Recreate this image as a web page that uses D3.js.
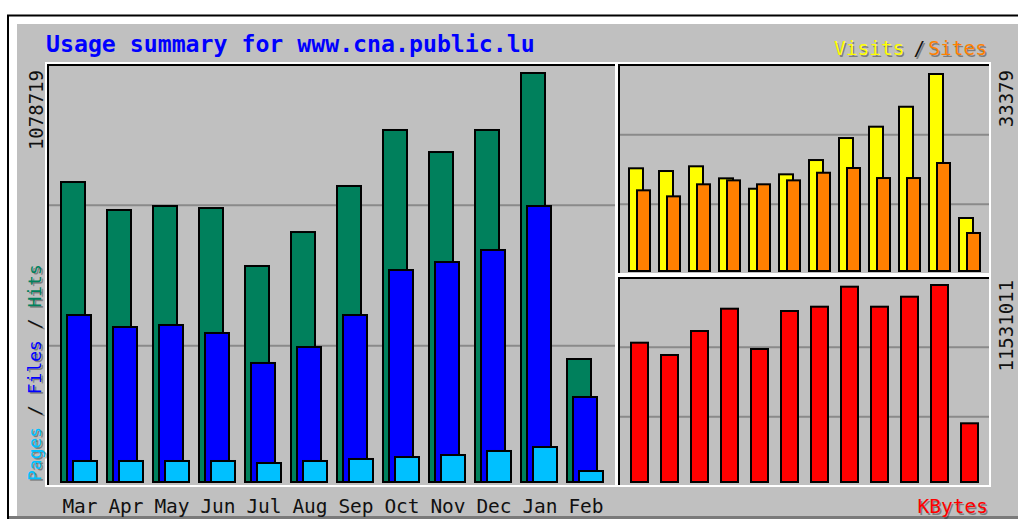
<!DOCTYPE html>
<html>
<head>
<meta charset="utf-8">
<script src="https://cdn.jsdelivr.net/npm/d3@7"></script>
<style>
  body { margin: 0; background: #fff; }
  text { font-family: "DejaVu Sans Mono", monospace; }
</style>
</head>
<body>
<div id="chart"></div>
<script>
// monthly usage data
var months = ["Mar", "Apr", "May", "Jun", "Jul", "Aug", "Sep", "Oct", "Nov", "Dec", "Jan", "Feb"];
var hits   = [791200, 717400, 727900, 722600, 569700, 659300, 780700, 928400, 870300, 928400, 1078719, 324400];
var files  = [440400, 408800, 414100, 393000, 313900, 356000, 440400, 559100, 580200, 611900, 727900, 224200];
var pages  = [55400, 55400, 55400, 55400, 50100, 55400, 60700, 65900, 71200, 81800, 92300, 29000];
var visits = [17400, 16940, 17740, 15700, 13940, 16380, 18800, 22530, 24450, 27830, 33379, 8980];
var sites  = [13670, 12650, 14690, 15360, 14690, 15360, 16650, 17450, 15750, 15750, 18300, 6440];
var kbytes = [8154000, 7434000, 8838000, 10144000, 7785000, 10009000, 10261000, 11432000, 10261000, 10846000, 11531011, 3436000];

var title = "Usage summary for www.cna.public.lu";

var width = 1018, height = 520;
var grey = "#c0c0c0", grid = "#8a8a8a";

var svg = d3.select("#chart")
  .append("svg")
    .attr("width", width)
    .attr("height", height);

// outer frame
svg.append("rect").attr("width", width).attr("height", height).attr("fill", "#fff");
svg.append("rect")
  .attr("x", 17).attr("y", 24)
  .attr("width", width - 17).attr("height", 492)
  .attr("fill", grey);
svg.append("line").attr("x1", 7).attr("x2", width).attr("y1", 15.5).attr("y2", 15.5)
  .attr("stroke", "#000").attr("stroke-width", 2);
svg.append("line").attr("x1", 8).attr("x2", 8).attr("y1", 15).attr("y2", 519)
  .attr("stroke", "#000").attr("stroke-width", 2);
svg.append("line").attr("x1", 9).attr("x2", width).attr("y1", 517.5).attr("y2", 517.5)
  .attr("stroke", "#7a7a7a").attr("stroke-width", 3);

// sunken plot boxes
function box(x0, y0, x1, y1) {
  svg.append("rect")
    .attr("x", x0).attr("y", y0)
    .attr("width", x1 - x0).attr("height", y1 - y0)
    .attr("fill", grey)
    .attr("stroke", "#fff").attr("stroke-width", 2);
  svg.append("path")
    .attr("d", "M" + (x0 + 2) + "," + (y1 - 1) + "V" + (y0 + 2) + "H" + (x1 - 1))
    .attr("fill", "none").attr("stroke", "#000").attr("stroke-width", 2);
}
box(46, 63, 616, 486);
box(617, 63, 990, 274);
box(617, 276, 990, 486);

// grid lines, thirds of each box
function gridLines(x0, x1, y0, y1) {
  svg.append("g").selectAll("line")
    .data([1, 2])
    .enter().append("line")
      .attr("x1", x0).attr("x2", x1)
      .attr("y1", function(d) { return y0 + d * (y1 - y0) / 3; })
      .attr("y2", function(d) { return y0 + d * (y1 - y0) / 3; })
      .attr("stroke", grid).attr("stroke-width", 2);
}
gridLines(49, 615, 65, 486);
gridLines(620, 989, 65, 274);
gridLines(620, 989, 278, 486);

// scales
var x = d3.scaleBand().domain(months).range([57, 609]);
var xr = d3.scaleBand().domain(months).range([621, 981]);
var yL = d3.scaleLinear().domain([0, d3.max(hits)]).range([481, 72]);
var yV = d3.scaleLinear().domain([0, d3.max(visits)]).range([270, 73]);
var yK = d3.scaleLinear().domain([0, d3.max(kbytes)]).range([481, 284]);

// bars with a black outline
function bars(values, xs, ys, off, w, color) {
  svg.append("g").selectAll("rect")
    .data(values)
    .enter().append("rect")
      .attr("x", function(d, i) { return xs(months[i]) + off + 1; })
      .attr("y", function(d) { return ys(d) + 1; })
      .attr("width", w - 2)
      .attr("height", function(d) { return ys(0) - ys(d); })
      .attr("fill", color)
      .attr("stroke", "#000").attr("stroke-width", 2);
}
bars(hits, x, yL, 3, 26, "#00805c");
bars(files, x, yL, 9, 26, "#0000ff");
bars(pages, x, yL, 15, 26, "#00c0ff");
bars(visits, xr, yV, 7, 16, "#ffff00");
bars(sites, xr, yV, 15, 15, "#ff8000");
bars(kbytes, xr, yK, 9, 19, "#ff0000");

// month labels
svg.append("g").selectAll("text")
  .data(months)
  .enter().append("text")
    .attr("x", function(d) { return x(d) + x.bandwidth() / 2; })
    .attr("y", 513)
    .attr("text-anchor", "middle")
    .style("font-size", "19.5px")
    .attr("fill", "#111")
    .text(function(d) { return d; });

// title
svg.append("text")
  .attr("x", 46).attr("y", 52)
  .style("font-size", "23.2px").style("font-weight", "bold")
  .attr("fill", "#0000ff")
  .text(title);

// max value labels, rotated
function maxLabel(tx, ty, v) {
  svg.append("text")
    .attr("transform", "translate(" + tx + "," + ty + ") rotate(-90)")
    .attr("text-anchor", "end")
    .style("font-size", "19px")
    .attr("fill", "#111")
    .text(v);
}
maxLabel(43, 70, d3.max(hits));
maxLabel(1013, 70, d3.max(visits));
maxLabel(1013, 280, d3.max(kbytes));

// legends: dark shadow first, then coloured text
function legend(tx, ty, rot, anchor, size, parts) {
  [true, false].forEach(function(shadow) {
    var t = svg.append("text")
      .attr("transform", "translate(" + (tx + (shadow ? 1.5 : 0)) + "," + (ty + (shadow ? 1.5 : 0)) + ") rotate(" + rot + ")")
      .attr("text-anchor", anchor)
      .style("font-size", size + "px");
    parts.forEach(function(p) {
      t.append("tspan")
        .attr("dx", p[2] || 0)
        .attr("fill", shadow ? "rgba(0,0,0,0.35)" : p[1])
        .text(p[0]);
    });
  });
}
legend(41, 481, -90, "start", 18, [["Pages", "#00c0ff"], [" / ", "#111"], ["Files", "#0000ff"], [" / ", "#111"], ["Hits", "#00805c"]]);
legend(987, 55, 0, "end", 19.5, [["Visits", "#ffff00"], ["/", "#111", 9], ["Sites", "#ff8000", 3]]);
legend(988, 513, 0, "end", 19.5, [["KBytes", "#ff0000"]]);
</script>
</body>
</html>
